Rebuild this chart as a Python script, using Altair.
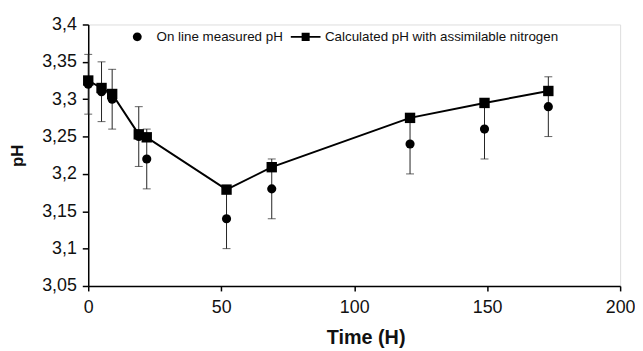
import altair as alt
import pandas as pd

# ---- data ----
time_h = [0, 5, 9, 19, 22, 52, 69, 121, 149, 173]
measured_ph = [3.32, 3.31, 3.30, 3.25, 3.22, 3.14, 3.18, 3.24, 3.26, 3.29]
measured_err = [0.04, 0.04, 0.04, 0.04, 0.04, 0.04, 0.04, 0.04, 0.04, 0.04]
calculated_ph = [3.325, 3.315, 3.307, 3.253, 3.249, 3.179, 3.209, 3.275, 3.295, 3.311]
series_names = ["On line measured pH", "Calculated pH with assimilable nitrogen"]
x_ticks = [0, 50, 100, 150, 200]
y_ticks = [3.05, 3.1, 3.15, 3.2, 3.25, 3.3, 3.35, 3.4]

meas = pd.DataFrame({
    "time": time_h,
    "ph": measured_ph,
    "lo": [v - e for v, e in zip(measured_ph, measured_err)],
    "hi": [v + e for v, e in zip(measured_ph, measured_err)],
    "series": series_names[0],
})
calc = pd.DataFrame({"time": time_h, "ph": calculated_ph, "series": series_names[1]})
both = pd.concat([meas[["time", "ph", "series"]], calc], ignore_index=True)

FONT = "Liberation Sans"

x_axis = alt.Axis(
    values=x_ticks, title="Time (H)", grid=False, labelFlush=False, labelOverlap=False,
    domainColor="black", domainWidth=1.5, tickColor="black", tickWidth=1.5,
    tickSize=5, labelFontSize=18, labelPadding=8, labelColor="#111",
    titleFontSize=20, titleColor="#111", titlePadding=11, titleX=280,
    labelFont=FONT, titleFont=FONT,
)
y_axis = alt.Axis(
    values=y_ticks, title="pH", grid=False, labelOverlap=False,
    labelExpr="replace(format(datum.value, '.2~f'), '.', ',')",
    domainColor="black", domainWidth=1.5, tickColor="black", tickWidth=1.5,
    tickSize=6, labelFontSize=18, labelPadding=6, labelColor="#111",
    titleFontSize=17, titleColor="#111", titleX=-62,
    labelFont=FONT, titleFont=FONT,
)

x_scale = alt.Scale(domain=[0, 200], nice=False)
y_scale = alt.Scale(domain=[3.05, 3.4], nice=False, zero=False)


def X():
    return alt.X("time:Q", scale=x_scale, axis=x_axis)


def Y(field):
    return alt.Y(f"{field}:Q", scale=y_scale, axis=y_axis)


rules = alt.Chart(meas).mark_rule(color="#222", strokeWidth=1).encode(
    x=X(), y=Y("lo"), y2="hi:Q")
cap_lo = alt.Chart(meas).mark_tick(orient="horizontal", size=8, thickness=1, color="#222").encode(
    x=X(), y=Y("lo"))
cap_hi = alt.Chart(meas).mark_tick(orient="horizontal", size=8, thickness=1, color="#222").encode(
    x=X(), y=Y("hi"))
circles = alt.Chart(meas).mark_point(shape="circle", filled=True, size=85, color="black", opacity=1).encode(
    x=X(), y=Y("ph"))
line = alt.Chart(calc).mark_line(color="black", strokeWidth=2).encode(x=X(), y=Y("ph"))
squares = alt.Chart(calc).mark_point(shape="square", filled=True, size=110, color="black", opacity=1).encode(
    x=X(), y=Y("ph"))

circle_path = "M0.3,0A0.3,0.3 0 1,1 -0.3,0A0.3,0.3 0 1,1 0.3,0Z"
line_sq_path = "M-1,-0.06H-0.27V-0.27H0.27V-0.06H1V0.06H0.27V0.27H-0.27V0.06H-1Z"

legend_layer = alt.Chart(both).mark_point(filled=True, opacity=0, color="black").encode(
    x=X(), y=Y("ph"),
    shape=alt.Shape(
        "series:N",
        scale=alt.Scale(domain=series_names, range=[circle_path, line_sq_path]),
        legend=alt.Legend(
            title=None, orient="none", legendX=34, legendY=-3, direction="horizontal",
            labelFont=FONT, labelFontSize=13.5, labelColor="#111", labelOffset=4,
            labelLimit=0, columnPadding=6, symbolSize=900, padding=0,
            symbolOpacity=1, symbolFillColor="black", symbolStrokeColor="black",
            symbolStrokeWidth=0.5,
        ),
    ),
)

chart = alt.layer(rules, cap_lo, cap_hi, circles, line, squares, legend_layer).properties(
    width=537, height=264,
    autosize=alt.AutoSizeParams(type="none"),
    padding={"left": 81, "top": 15, "right": 15, "bottom": 65},
).configure_view(stroke=None).configure(font=FONT)

chart.save("out.html", embed_options={"renderer": "svg", "actions": False})
